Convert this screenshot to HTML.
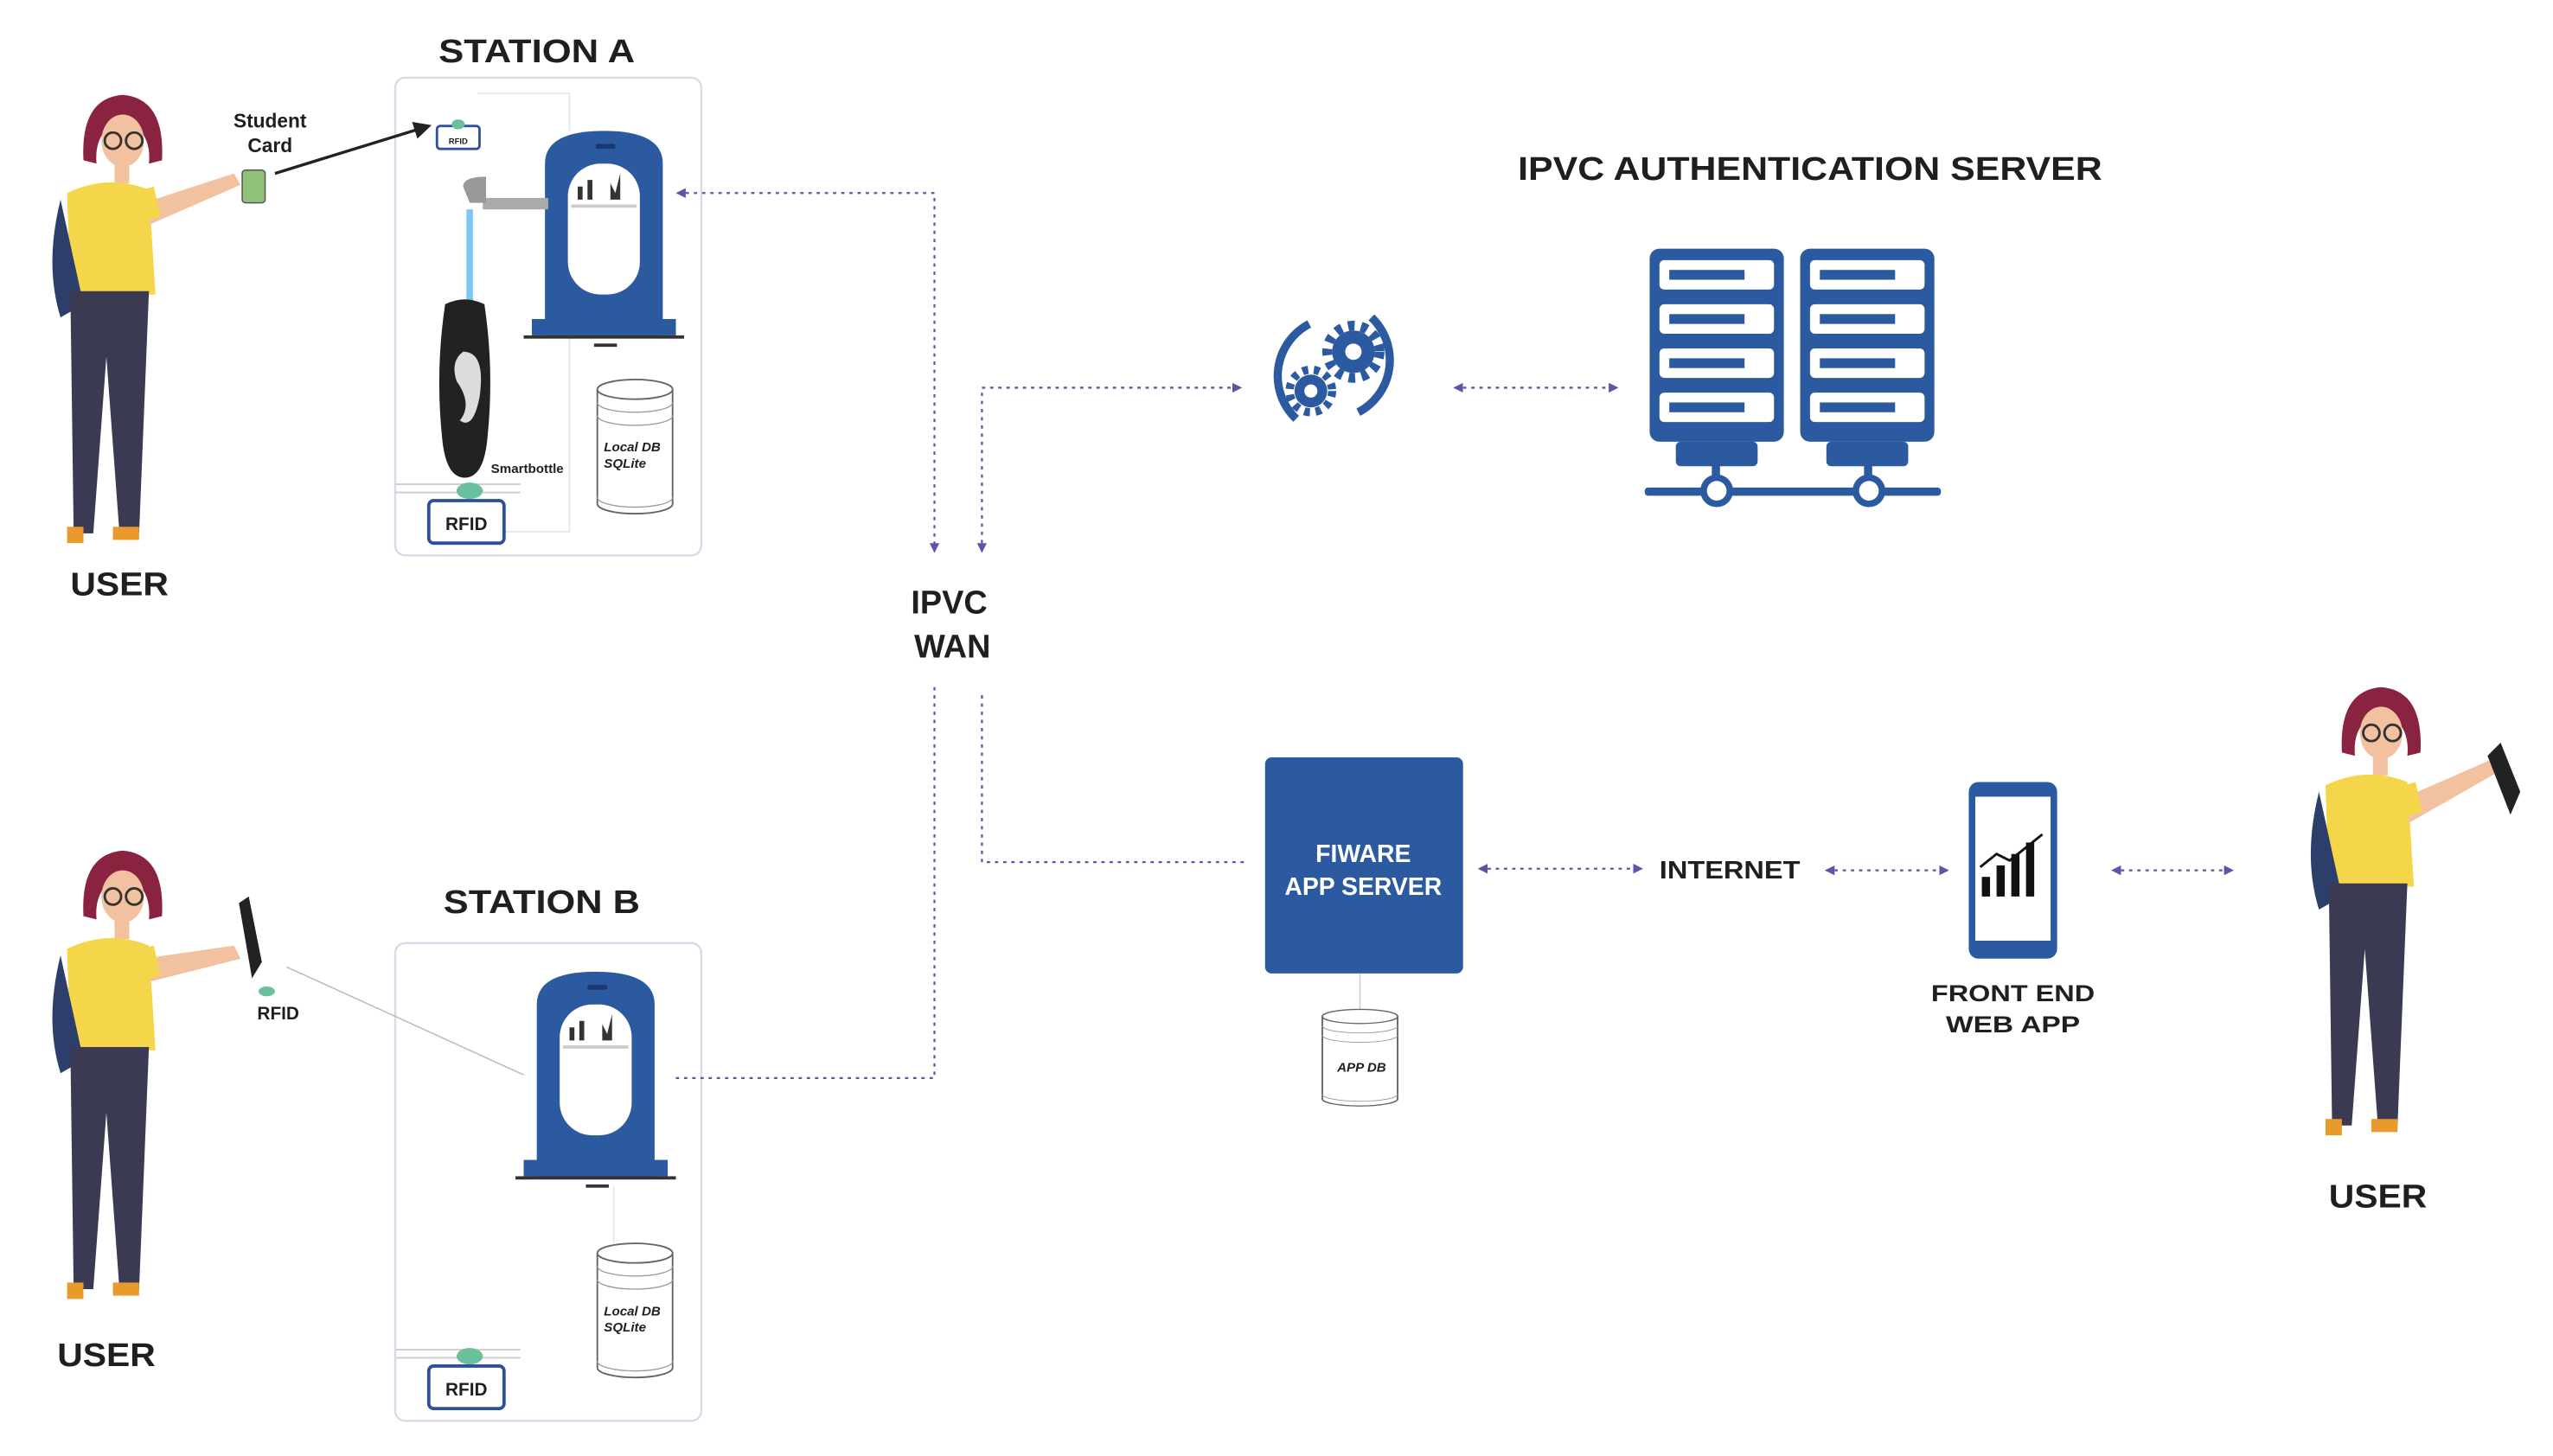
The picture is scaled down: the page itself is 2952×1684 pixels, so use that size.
<!DOCTYPE html>
<html><head><meta charset="utf-8"><style>
html,body{margin:0;padding:0;background:#fff;}
svg{display:block;}
text{font-family:"Liberation Sans",sans-serif;font-weight:bold;fill:#1f1f1f;}
</style></head><body>
<svg width="2952" height="1684" viewBox="0 0 1560 890" preserveAspectRatio="none" xmlns="http://www.w3.org/2000/svg">
<defs>
<marker id="ar" viewBox="0 0 6 6" refX="5" refY="3" markerWidth="5" markerHeight="5" orient="auto-start-reverse"><path d="M0,0L6,3L0,6z" fill="#5a55a8"/></marker>
<marker id="ab" viewBox="0 0 6 6" refX="5" refY="3" markerWidth="6" markerHeight="6" orient="auto"><path d="M0,0L6,3L0,6z" fill="#222"/></marker>
<g id="person">
 <path d="M22,0 q-26,2 -24,40 l8,2 q-2,-20 16,-28 q18,8 16,28 l8,-2 q2,-38 -24,-40z" fill="#8a2340"/>
 <ellipse cx="22" cy="28" rx="13" ry="16" fill="#f2c2a0"/>
 <circle cx="16" cy="28" r="5" fill="none" stroke="#333" stroke-width="1.5"/><circle cx="29" cy="28" r="5" fill="none" stroke="#333" stroke-width="1.5"/>
 <rect x="17" y="42" width="9" height="12" fill="#f2c2a0"/>
 <path d="M-12,60 q25,-12 50,-2 l4,64 l-52,0z" fill="#f5d54a"/>
 <path d="M-16,64 q-10,40 0,72 l14,-8 z" fill="#2c3f6a"/>
 <path d="M-10,120 l48,0 l-6,148 l-12,0 l-8,-108 l-8,108 l-12,0z" fill="#3a3a52"/>
 <rect x="-12" y="264" width="10" height="10" fill="#e99a2c"/><rect x="16" y="264" width="16" height="8" fill="#e99a2c"/>
</g>
<g id="kiosk">
 <path d="M0,125 l0,-105 q0,-20 36,-20 q36,0 36,20 l0,105z" fill="#2c5aa0"/>
 <rect x="14" y="20" width="44" height="80" rx="20" fill="#fff"/>
 <rect x="16" y="45" width="40" height="2" fill="#ccc"/>
 <path d="M20,42 l0,-8 l3,0 l0,8 M26,42 l0,-12 l3,0 l0,12 M40,42 l0,-10 l3,6 l3,-12 l0,16z" fill="#333"/>
 <rect x="31" y="8" width="12" height="3" rx="1" fill="#1b3870"/>
 <rect x="-8" y="115" width="88" height="10" fill="#2c5aa0"/>
 <rect x="-13" y="125" width="98" height="2" fill="#333"/>
 <rect x="30" y="130" width="14" height="2" fill="#333"/>
</g>
<g id="cyl">
 <path d="M0,6 l0,70 a23,6 0 0 0 46,0 l0,-70" fill="#fff" stroke="#666" stroke-width="1"/>
 <ellipse cx="23" cy="6" rx="23" ry="6" fill="#fff" stroke="#666"/>
 <path d="M0,14 a23,6 0 0 0 46,0 M0,22 a23,6 0 0 0 46,0 M0,72 a23,6 0 0 0 46,0" fill="none" stroke="#999" stroke-width="0.7"/>
</g>
</defs>

<!-- Station A -->
<text x="328" y="38" font-size="20" text-anchor="middle" textLength="120" lengthAdjust="spacingAndGlyphs">STATION A</text>
<rect x="241.5" y="47.5" width="187" height="292" rx="6" fill="none" stroke="#d6d9e8" stroke-width="1.2"/>
<path d="M292,57 L348,57 L348,80 M348,205 L348,325 L305,325" fill="none" stroke="#dfe6e6" stroke-width="0.8"/>
<rect x="267" y="77" width="26" height="14" rx="2" fill="#fff" stroke="#3050a0" stroke-width="1.5"/>
<text x="280" y="88" font-size="5" text-anchor="middle" font-weight="normal">RFID</text>
<ellipse cx="280" cy="76" rx="4" ry="3" fill="#6ac09a"/>
<use href="#kiosk" x="333" y="80"/>
<rect x="295" y="121" width="40" height="7" fill="#aaa"/>
<path d="M283,114 q0,-6 14,-6 l0,16 l-10,0z" fill="#999"/>
<rect x="285" y="128" width="4" height="60" fill="#7cc6f0"/>
<path d="M272,186 q12,-6 24,0 q6,40 2,80 q-2,26 -14,26 q-12,0 -14,-26 q-4,-40 2,-80z" fill="#222"/>
<path d="M283,215 q14,0 10,28 q-4,20 -12,14 q8,-10 -2,-24 q-4,-12 4,-18z" fill="#ddd"/>
<text x="300" y="289" font-size="8" font-weight="normal" fill="#666">Smartbottle</text>
<path d="M242,296 L318,296 M242,301 L318,301" stroke="#ccc" stroke-width="1"/>
<ellipse cx="287" cy="300" rx="8" ry="5" fill="#6ac09a"/>
<rect x="262" y="306" width="46" height="26" rx="3" fill="#fff" stroke="#2c4f9e" stroke-width="2"/>
<text x="285" y="324" font-size="11" text-anchor="middle">RFID</text>
<use href="#cyl" x="365" y="232"/>
<text x="369" y="276" font-size="8" font-style="italic" fill="#444">Local DB</text>
<text x="369" y="286" font-size="8" font-style="italic" fill="#444">SQLite</text>

<!-- user A -->
<use href="#person" x="53" y="58"/>
<path d="M88,124 l55,-18 l4,7 l-55,24z" fill="#f2c2a0"/>
<path d="M80,118 l14,-4 l4,18 l-12,4z" fill="#f5d54a"/>
<rect x="148" y="104" width="14" height="20" rx="2" fill="#8fc178" stroke="#555" stroke-width="0.8"/>
<text x="165" y="78" font-size="12" text-anchor="middle">Student</text>
<text x="165" y="93" font-size="12" text-anchor="middle">Card</text>
<line x1="168" y1="106" x2="262" y2="77" stroke="#222" stroke-width="1.8" marker-end="url(#ab)"/>
<text x="73" y="364" font-size="20" text-anchor="middle" textLength="60" lengthAdjust="spacingAndGlyphs">USER</text>

<!-- Station B -->
<text x="331" y="558" font-size="20" text-anchor="middle" textLength="120" lengthAdjust="spacingAndGlyphs">STATION B</text>
<rect x="241.5" y="576.5" width="187" height="292" rx="6" fill="none" stroke="#d6d9e8" stroke-width="1.2"/>
<use href="#kiosk" x="328" y="594"/>
<path d="M375,725 L375,760" stroke="#dfe6e6" stroke-width="0.8"/>
<use href="#cyl" x="365" y="760"/>
<text x="369" y="804" font-size="8" font-style="italic" fill="#444">Local DB</text>
<text x="369" y="814" font-size="8" font-style="italic" fill="#444">SQLite</text>
<path d="M242,825 L318,825 M242,830 L318,830" stroke="#ccc" stroke-width="1"/>
<ellipse cx="287" cy="829" rx="8" ry="5" fill="#6ac09a"/>
<rect x="262" y="835" width="46" height="26" rx="3" fill="#fff" stroke="#2c4f9e" stroke-width="2"/>
<text x="285" y="853" font-size="11" text-anchor="middle">RFID</text>

<!-- user B -->
<use href="#person" x="53" y="520"/>
<path d="M88,586 l55,-8 l4,8 l-55,14z" fill="#f2c2a0"/>
<path d="M80,582 l14,-4 l4,18 l-12,4z" fill="#f5d54a"/>
<path d="M146,552 l6,-4 l8,40 l-6,10z" fill="#222"/>
<ellipse cx="163" cy="606" rx="5" ry="3" fill="#6ac09a"/>
<text x="170" y="623" font-size="11" text-anchor="middle" font-weight="normal">RFID</text>
<line x1="175" y1="591" x2="320" y2="657" stroke="#bbb" stroke-width="0.8"/>
<text x="65" y="835" font-size="20" text-anchor="middle" textLength="60" lengthAdjust="spacingAndGlyphs">USER</text>

<!-- WAN -->
<text x="580" y="375" font-size="20" text-anchor="middle">IPVC</text>
<text x="582" y="402" font-size="20" text-anchor="middle">WAN</text>

<g fill="none" stroke="#5a55a8" stroke-width="1.2" stroke-dasharray="2,3">
<path d="M414,118 L571,118 L571,337" marker-start="url(#ar)" marker-end="url(#ar)"/>
<path d="M600,337 L600,237 L758,237" marker-start="url(#ar)" marker-end="url(#ar)"/>
<path d="M889,237 L988,237" marker-start="url(#ar)" marker-end="url(#ar)"/>
<path d="M571,420 L571,659 L412,659"/>
<path d="M600,425 L600,527 L760,527"/>
<path d="M904,531 L1003,531" marker-start="url(#ar)" marker-end="url(#ar)"/>
<path d="M1116,532 L1190,532" marker-start="url(#ar)" marker-end="url(#ar)"/>
<path d="M1291,532 L1364,532" marker-start="url(#ar)" marker-end="url(#ar)"/>
</g>

<!-- auth server -->
<text x="1106" y="110" font-size="20" text-anchor="middle" textLength="357" lengthAdjust="spacingAndGlyphs">IPVC AUTHENTICATION SERVER</text>
<g fill="none" stroke="#2c5aa0" stroke-width="5">
 <path d="M792,256 a36,36 0 0 1 8,-58"/><path d="M838,194 a36,36 0 0 1 -8,58"/>
</g>
<circle cx="827" cy="215" r="13" fill="#2c5aa0"/>
<circle cx="827" cy="215" r="16" fill="none" stroke="#2c5aa0" stroke-width="6" stroke-dasharray="4,4"/>
<circle cx="827" cy="215" r="5" fill="#fff"/>
<circle cx="801" cy="239" r="10" fill="#2c5aa0"/>
<circle cx="801" cy="239" r="13" fill="none" stroke="#2c5aa0" stroke-width="5" stroke-dasharray="3.5,3.5"/>
<circle cx="801" cy="239" r="4" fill="#fff"/>
<g fill="#2c5aa0">
 <rect x="1008" y="152" width="82" height="118" rx="6"/><rect x="1100" y="152" width="82" height="118" rx="6"/>
 <rect x="1024" y="270" width="50" height="15" rx="3"/><rect x="1116" y="270" width="50" height="15" rx="3"/>
 <rect x="1046" y="283" width="5" height="12"/><rect x="1139" y="283" width="5" height="12"/>
 <rect x="1005" y="298" width="181" height="5" rx="2"/>
</g>
<g fill="#fff">
 <rect x="1014" y="159" width="70" height="18" rx="3"/><rect x="1014" y="186" width="70" height="18" rx="3"/><rect x="1014" y="213" width="70" height="18" rx="3"/><rect x="1014" y="240" width="70" height="18" rx="3"/>
 <rect x="1106" y="159" width="70" height="18" rx="3"/><rect x="1106" y="186" width="70" height="18" rx="3"/><rect x="1106" y="213" width="70" height="18" rx="3"/><rect x="1106" y="240" width="70" height="18" rx="3"/>
</g>
<g fill="#2c5aa0">
 <rect x="1020" y="165" width="46" height="6"/><rect x="1020" y="192" width="46" height="6"/><rect x="1020" y="219" width="46" height="6"/><rect x="1020" y="246" width="46" height="6"/>
 <rect x="1112" y="165" width="46" height="6"/><rect x="1112" y="192" width="46" height="6"/><rect x="1112" y="219" width="46" height="6"/><rect x="1112" y="246" width="46" height="6"/>
</g>
<circle cx="1049" cy="300" r="8" fill="#fff" stroke="#2c5aa0" stroke-width="4"/>
<circle cx="1142" cy="300" r="8" fill="#fff" stroke="#2c5aa0" stroke-width="4"/>

<!-- FIWARE -->
<rect x="773" y="463" width="121" height="132" rx="4" fill="#2c5aa0"/>
<text x="833" y="527" font-size="15" text-anchor="middle" style="fill:#fff">FIWARE</text>
<text x="833" y="547" font-size="15" text-anchor="middle" style="fill:#fff">APP SERVER</text>
<line x1="831" y1="595" x2="831" y2="618" stroke="#ccc" stroke-width="0.8"/>
<use href="#cyl" x="808" y="617" transform="translate(808,617) scale(1,0.72) translate(-808,-617)"/>
<text x="832" y="655" font-size="8" font-style="italic" text-anchor="middle" fill="#444">APP DB</text>

<text x="1057" y="537" font-size="15" text-anchor="middle" textLength="86" lengthAdjust="spacingAndGlyphs">INTERNET</text>

<!-- phone -->
<rect x="1203" y="478" width="54" height="108" rx="6" fill="#2c5aa0"/>
<rect x="1207" y="487" width="46" height="88" fill="#fff"/>
<g fill="#111"><rect x="1211" y="536" width="5" height="12"/><rect x="1220" y="529" width="5" height="19"/><rect x="1229" y="522" width="5" height="26"/><rect x="1238" y="515" width="5" height="33"/></g>
<path d="M1210,530 l10,-8 l8,4 l20,-16" fill="none" stroke="#111" stroke-width="1.5"/>
<text x="1230" y="612" font-size="14" text-anchor="middle" textLength="100" lengthAdjust="spacingAndGlyphs">FRONT END</text>
<text x="1230" y="631" font-size="14" text-anchor="middle" textLength="82" lengthAdjust="spacingAndGlyphs">WEB APP</text>

<!-- user right -->
<use href="#person" x="1433" y="420"/>
<path d="M1468,488 l55,-24 l5,7 l-56,32z" fill="#f2c2a0"/>
<path d="M1462,482 l14,-4 l4,18 l-12,4z" fill="#f5d54a"/>
<path d="M1520,462 l8,-8 l12,30 l-6,14z" fill="#222"/>
<text x="1453" y="738" font-size="20" text-anchor="middle" textLength="60" lengthAdjust="spacingAndGlyphs">USER</text>
</svg>
</body></html>
